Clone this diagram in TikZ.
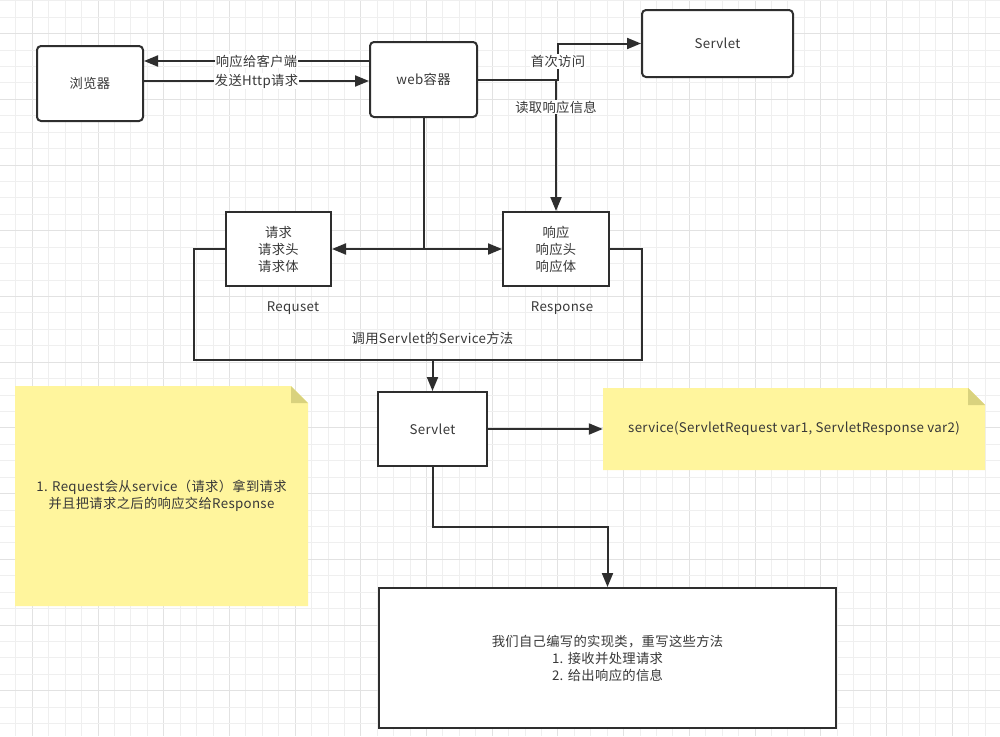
\documentclass[tikz,border=0pt]{standalone}
\usepackage{fontspec}
\setmainfont[LetterSpace=2.5]{Noto Sans CJK SC}
\usetikzlibrary{arrows.meta,calc}
\definecolor{ink}{HTML}{2E2E2E}
\definecolor{txt}{HTML}{383838}
\definecolor{notefill}{HTML}{FFF59D}
\definecolor{notefold}{HTML}{D9D27E}
\definecolor{gridminor}{HTML}{EFEFEF}
\definecolor{gridmajor}{HTML}{E2E2E2}
\begin{document}
\begin{tikzpicture}[x=1pt,y=-1pt,
  every node/.style={font=\fontsize{13.3}{17}\selectfont, text=txt},
  rbox/.style={draw=ink, line width=2pt, rounded corners=4pt, fill=white, align=center},
  sbox/.style={draw=ink, line width=2pt, fill=white, align=center},
  conn/.style={draw=ink, line width=2pt},
  arr/.style={conn, -{Triangle[length=14pt,width=11pt]}},
  lbl/.style={fill=white, inner sep=1pt},
  plain/.style={inner sep=1pt},
  notebox/.style={inner sep=0pt, align=center,
    path picture={
      \fill[notefill] (path picture bounding box.south west) -- (path picture bounding box.north west)
        -- ($(path picture bounding box.north east)+(-17,0)$) -- ($(path picture bounding box.north east)+(0,17)$)
        -- (path picture bounding box.south east) -- cycle;
      \fill[notefold] ($(path picture bounding box.north east)+(-17,0)$) -- ($(path picture bounding box.north east)+(-17,17)$)
        -- ($(path picture bounding box.north east)+(0,17)$) -- cycle;
    }},
]
\useasboundingbox (0,0) rectangle (1000,736);
\fill[white] (0,0) rectangle (1000,736);
% grid
\foreach \k in {0,...,61} {
  \pgfmathsetmacro{\gx}{-0.5+16.425*\k}
  \pgfmathtruncatemacro{\m}{mod(\k,4)}
  \ifnum\m=2 \draw[gridmajor, line width=1pt] (\gx,0) -- (\gx,736);
  \else \draw[gridminor, line width=1pt] (\gx,0) -- (\gx,736); \fi
}
\foreach \k in {0,...,45} {
  \pgfmathsetmacro{\gy}{0.85+16.425*\k}
  \pgfmathtruncatemacro{\m}{mod(\k,4)}
  \ifnum\m=2 \draw[gridmajor, line width=1pt] (0,\gy) -- (1000,\gy);
  \else \draw[gridminor, line width=1pt] (0,\gy) -- (1000,\gy); \fi
}

% nodes
\node[rbox, minimum width=106, minimum height=75] (browser) at (90,83.5) {浏览器};
\node[rbox, minimum width=107, minimum height=75] (web) at (423.5,79.5) {web容器};
\node[rbox, minimum width=151, minimum height=67] (servletTop) at (717.5,43.5) {Servlet};
\node[sbox, minimum width=105, minimum height=74] (req) at (278.5,249) {请求\\请求头\\请求体};
\node[sbox, minimum width=106, minimum height=74] (resp) at (556,249) {响应\\响应头\\响应体};
\node[plain] (reqlbl) at (293,308) {Requset};
\node[plain] (resplbl) at (562,308) {Response};
\node[sbox, minimum width=109, minimum height=74] (servletMid) at (432.5,429) {Servlet};
\node[sbox, minimum width=457, minimum height=140] (impl) at (607.5,658) {我们自己编写的实现类，重写这些方法\\1. 接收并处理请求\\2. 给出响应的信息};
\node[notebox, minimum width=293, minimum height=220] (note1) at (161.5,496)
  {1. Request会从service（请求）拿到请求\\并且把请求之后的响应交给Response};
\node[notebox, minimum width=382, minimum height=82] (note2) at (794,429)
  {service(ServletRequest var1, ServletResponse var2)};

% connectors
\draw[arr] ($(web.west)+(0,-18.5)$) coordinate (a1) -- (a1 -| browser.east)
  node[midway, lbl] {响应给客户端};
\draw[arr] ($(browser.east)+(0,-2.5)$) coordinate (a2) -- (a2 -| web.west)
  node[midway, lbl] {发送Http请求};
\draw[arr] (web.east) -- ++(80,0) coordinate (j1) |- (servletTop.west)
  node[pos=0.25, lbl] {首次访问};
\draw[arr] (j1 -| resp.north) -- (resp.north)
  node[pos=0.21, lbl] {读取响应信息};
\draw[arr] (web.south) |- (req.east);
\draw[arr] (web.south) |- (resp.east -| resp.west);
\coordinate (loopBL) at (194,360);
\coordinate (loopBR) at (642,360);
\draw[conn] (req.west) -| (loopBL) -- (loopBR) |- (resp.east);
\draw[arr] (servletMid.north |- loopBL) -- (servletMid.north);
\node[plain] (calltxt) at ($(servletMid.north |- loopBL)+(0,-22)$) {调用Servlet的Service方法};
\draw[arr] (servletMid.east) -- (note2.west);
\coordinate (bend) at (500,527);
\draw[arr] (servletMid.south) |- (bend) -| (impl.north);
\end{tikzpicture}
\end{document}
